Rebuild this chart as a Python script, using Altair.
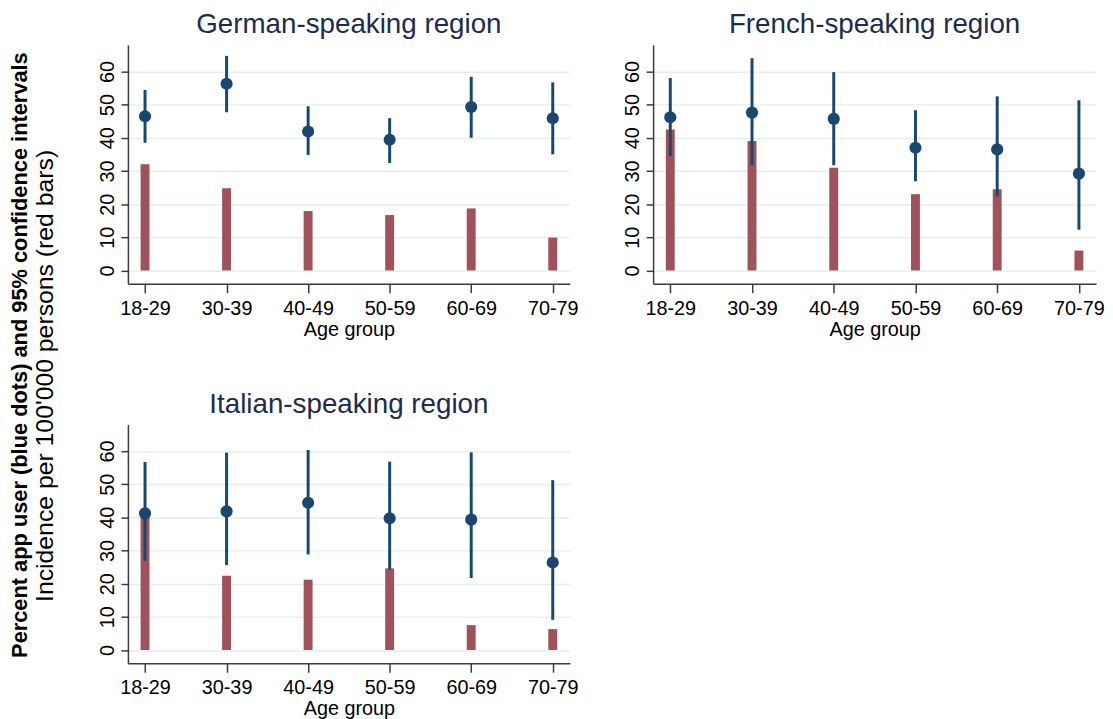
import altair as alt
import pandas as pd

ages = ["18-29", "30-39", "40-49", "50-59", "60-69", "70-79"]

german_pct = [46.5, 56.3, 41.9, 39.4, 49.3, 45.9]
german_lo = [38.5, 47.7, 34.8, 32.4, 40.0, 35.0]
german_hi = [54.4, 64.7, 49.5, 45.9, 58.4, 56.7]
german_inc = [32.0, 24.8, 17.9, 16.7, 18.7, 9.9]

french_pct = [46.2, 47.6, 45.7, 37.0, 36.5, 29.2]
french_lo = [34.5, 31.8, 31.7, 26.9, 22.3, 12.3]
french_hi = [58.0, 64.0, 59.8, 48.3, 52.5, 51.3]
french_inc = [42.5, 39.0, 31.0, 23.0, 24.5, 6.0]

italian_pct = [41.2, 41.8, 44.4, 39.7, 39.3, 26.4]
italian_lo = [26.9, 25.6, 28.8, 24.2, 21.7, 9.1]
italian_hi = [56.7, 59.5, 60.3, 56.8, 59.6, 51.2]
italian_inc = [40.3, 22.4, 21.2, 24.6, 7.5, 6.3]

y_ticks = [0, 10, 20, 30, 40, 50, 60]
y_title_1 = "Percent app user (blue dots) and 95% confidence intervals"
y_title_2 = "Incidence per 100'000 persons (red bars)"

NAVY = "#1a476f"
MAROON = "#a0525a"
FONT = "Liberation Sans"


def panel(title, pct, lo, hi, inc, w):
    df = pd.DataFrame({"age": ages, "pct": pct, "lo": lo, "hi": hi, "inc": inc})
    x = alt.X(
        "age:N",
        sort=ages,
        scale=alt.Scale(type="point", padding=0.21),
        axis=alt.Axis(
            title="Age group", labelAngle=0, tickSize=9, labelPadding=6,
            titlePadding=1, labelFontSize=20, titleFontSize=20,
            titleFontWeight="normal", labelColor="black", titleColor="black",
            domainColor="#3a3a3a", domainWidth=1.5, tickColor="#3a3a3a",
            tickWidth=1.5, grid=False, labelFont=FONT, titleFont=FONT,
        ),
    )
    yscale = alt.Scale(domain=[-4, 68], nice=False, zero=False)
    yaxis = alt.Axis(
        title=None, values=y_ticks, labelAngle=270, tickSize=7, labelPadding=4,
        labelFontSize=20, labelColor="black", labelFont=FONT,
        domainColor="#3a3a3a", domainWidth=1.5, tickColor="#3a3a3a", tickWidth=1.5,
        grid=True, gridColor="#e6eef0", gridWidth=1.5,
    )
    base = alt.Chart(df)
    bars = base.mark_bar(size=9, color=MAROON).encode(
        x=x, y=alt.Y("inc:Q", scale=yscale, axis=yaxis), y2=alt.datum(0)
    )
    rules = base.mark_rule(strokeWidth=3, color=NAVY).encode(
        x=x, y=alt.Y("lo:Q", scale=yscale, axis=yaxis), y2="hi:Q"
    )
    dots = base.mark_circle(size=150, color=NAVY, opacity=1).encode(
        x=x, y=alt.Y("pct:Q", scale=yscale, axis=yaxis)
    )
    return alt.layer(bars, rules, dots).properties(
        width=w, height=241,
        title=alt.TitleParams(
            text=title, fontSize=28, font=FONT, color="#1c2b4f",
            fontWeight="normal", anchor="middle", baseline="alphabetic", offset=-16,
        ),
    )


german = panel("German-speaking region", german_pct, german_lo, german_hi, german_inc, 446)
french = panel("French-speaking region", french_pct, french_lo, french_hi, french_inc, 447)
italian = panel("Italian-speaking region", italian_pct, italian_lo, italian_hi, italian_inc, 446)

tdf = pd.DataFrame({"l1": [y_title_1], "l2": [y_title_2]})
t1 = alt.Chart(tdf).mark_text(
    angle=270, fontSize=22, font=FONT, fontWeight="bold", color="black",
    align="center", baseline="middle",
).encode(text="l1:N", x=alt.value(12), y=alt.value(313))
t2 = alt.Chart(tdf).mark_text(
    angle=270, fontSize=25, font=FONT, fontWeight="normal", color="black",
    align="center", baseline="middle",
).encode(text="l2:N", x=alt.value(37), y=alt.value(334))
ytitle = alt.layer(t1, t2).properties(width=55, height=640)

grid = alt.vconcat(alt.hconcat(german, french, spacing=43), italian, spacing=52)
chart = alt.hconcat(ytitle, grid, spacing=34).properties(
    padding={"left": 0, "top": 0, "right": 0, "bottom": 0}
).configure(font=FONT).configure_view(strokeWidth=0, stroke=None)

chart.save("out.html", embed_options={"renderer": "svg", "actions": False})
